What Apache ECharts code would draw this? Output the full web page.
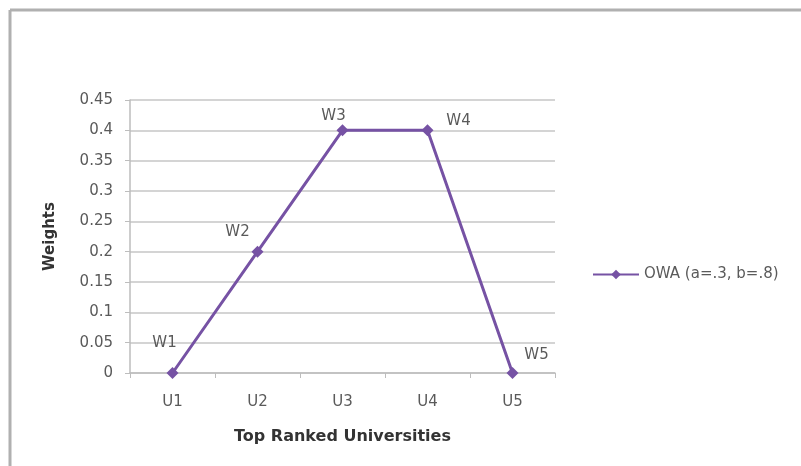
<!DOCTYPE html>
<html>
<head>
<meta charset="utf-8">
<script src="https://cdn.jsdelivr.net/npm/echarts@6/dist/echarts.min.js"></script>
<style>
  html, body { margin: 0; padding: 0; background: #fff; }
  #chart { width: 801px; height: 466px; }
</style>
</head>
<body>
<div id="chart"></div>
<script>
var categories = ['U1', 'U2', 'U3', 'U4', 'U5'];
var weights = [0, 0.2, 0.4, 0.4, 0];
var pointLabels = ['W1', 'W2', 'W3', 'W4', 'W5'];
var seriesName = 'OWA (a=.3, b=.8)';

// label offsets from each point (layout only)
var labelOffsets = [[-8, -30], [-20, -20], [-9, -14], [31, -9], [24, -18]];

var purple = '#7652a4';
var textColor = '#5a5a5a';
var font = 'DejaVu Sans, sans-serif';

var chart = echarts.init(document.getElementById('chart'));
var option = {
    backgroundColor: '#fff',
    animation: false,
    textStyle: { fontFamily: font },
    graphic: [
        { type: 'line', shape: { x1: 10, y1: 10, x2: 801, y2: 10 }, style: { stroke: '#b0b0b0', lineWidth: 3 } },
        { type: 'line', shape: { x1: 10, y1: 10, x2: 10, y2: 466 }, style: { stroke: '#b0b0b0', lineWidth: 3 } }
    ],
    grid: { left: 130, right: 246, top: 100, bottom: 93 },
    legend: {
        left: 587,
        top: 262,
        itemWidth: 46,
        itemHeight: 12,
        textStyle: { color: textColor, fontSize: 15, fontFamily: font },
        data: [seriesName]
    },
    xAxis: {
        type: 'category',
        data: categories,
        boundaryGap: true,
        name: 'Top Ranked Universities',
        nameLocation: 'middle',
        nameGap: 56,
        nameTextStyle: { color: '#333', fontWeight: 'bold', fontSize: 16, fontFamily: font },
        axisLine: { lineStyle: { color: '#bdbdbd', width: 1.5 } },
        axisTick: { show: true, length: 5, lineStyle: { color: '#bdbdbd' } },
        axisLabel: { color: textColor, fontSize: 15, margin: 22, fontFamily: font }
    },
    yAxis: {
        type: 'value',
        min: 0,
        max: 0.45,
        interval: 0.05,
        name: 'Weights',
        nameLocation: 'middle',
        nameGap: 72,
        nameTextStyle: { color: '#333', fontWeight: 'bold', fontSize: 15, fontFamily: font },
        axisLine: { show: true, lineStyle: { color: '#bdbdbd', width: 1.5 } },
        axisTick: { show: true, length: 5, lineStyle: { color: '#bdbdbd' } },
        axisLabel: {
            color: textColor, fontSize: 15, margin: 17, fontFamily: font,
            formatter: function (v) { return String(Math.round(v * 100) / 100); }
        },
        splitLine: { lineStyle: { color: '#c6c6c6', width: 1.5 } }
    },
    series: [{
        name: seriesName,
        type: 'line',
        symbol: 'diamond',
        symbolSize: 12,
        lineStyle: { color: purple, width: 3 },
        itemStyle: { color: purple },
        data: weights.map(function (v, i) {
            return {
                value: v,
                label: {
                    show: true,
                    formatter: pointLabels[i],
                    position: 'inside',
                    offset: labelOffsets[i],
                    color: textColor,
                    fontSize: 15,
                    fontFamily: font
                }
            };
        })
    }]
};
chart.setOption(option);
</script>
</body>
</html>
